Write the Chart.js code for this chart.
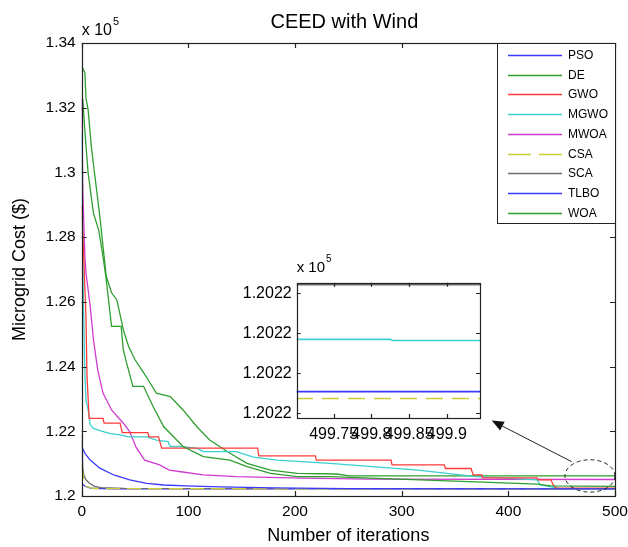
<!DOCTYPE html>
<html><head><meta charset="utf-8">
<script src="https://cdn.jsdelivr.net/npm/chart.js@4"></script>
<style>html,body{margin:0;padding:0;background:#fff;}#wrap{position:relative;width:628px;height:547px;}</style>
</head><body>
<div id="wrap">
<canvas id="main" width="628" height="547" style="position:absolute;left:0;top:0;"></canvas>
<canvas id="inset" width="260" height="200" style="position:absolute;left:230px;top:250px;"></canvas>
</div>
<script>
// ---------- text ----------
const chartTitle = 'CEED with Wind';
const xAxisTitle = 'Number of iterations';
const yAxisTitle = 'Microgrid Cost ($)';
const legendLabels = ['PSO','DE','GWO','MGWO','MWOA','CSA','SCA','TLBO','WOA'];

// ---------- ticks ----------
const xTickValues = [0,100,200,300,400,500];
const yTickValues = [1.2,1.22,1.24,1.26,1.28,1.3,1.32,1.34];
const insetXTickValues = [499.75,499.8,499.85,499.9];
const insetYTickValues = [1.2022,1.20221,1.20222,1.20223];

// ---------- series (cost in x 10^5 $) ----------
const psoIter  = [0,3,8,17,30,45,61,77,98,130,180,250,500];
const psoCost  = [1.2153,1.2132,1.2111,1.2086,1.2065,1.2050,1.2039,1.2034,1.2031,1.2028,1.2025,1.20225,1.2022054];

const deIter   = [0,1,3,6,11,16,20,23,28,37,39,42,48,58,67,77,95,114,139,155,177,202,233,270,317,376,427,440,500];
const deCost   = [1.3225,1.3225,1.3127,1.2999,1.2874,1.2821,1.2740,1.2669,1.2524,1.2524,1.2452,1.2412,1.2339,1.2339,1.2276,1.2214,1.2153,1.2122,1.2111,1.2091,1.2070,1.2060,1.2060,1.2055,1.2050,1.2043,1.2037,1.2031,1.2030];

const gwoIter  = [0,1,2,4,5,7,20,21,36,38,62,63,72,75,165,166,219,220,290,291,340,341,365,367,375,376,427,428,440,442,445,500];
const gwoCost  = [1.2897,1.2814,1.2730,1.2554,1.2368,1.2240,1.2240,1.2225,1.2225,1.2196,1.2196,1.2183,1.2183,1.2148,1.2148,1.2124,1.2124,1.2111,1.2111,1.2096,1.2096,1.2085,1.2085,1.2065,1.2065,1.2056,1.2056,1.2050,1.2050,1.2034,1.2024,1.2024];

const mgwoIter = [0,1,2,3,4,6,8,11,17,27,36,44,61,70,81,83,92,108,114,145,161,183,233,251,315,370,427,430,445,450,500];
const mgwoCost = [1.3122,1.2709,1.2535,1.2380,1.2297,1.2266,1.2220,1.2209,1.2202,1.2193,1.2189,1.2183,1.2183,1.2173,1.2168,1.2153,1.2153,1.2148,1.2137,1.2137,1.2120,1.2111,1.2101,1.2096,1.2080,1.2060,1.2050,1.2034,1.2025,1.20222,1.2022182];

const mwoaIter = [0,1,3,4,8,11,15,20,28,39,45,51,59,73,82,93,114,145,207,270,500];
const mwoaCost = [1.3225,1.2947,1.2740,1.2690,1.2586,1.2483,1.2390,1.2318,1.2266,1.2225,1.2199,1.2150,1.2111,1.2096,1.2080,1.2075,1.2065,1.2060,1.2055,1.2052,1.2051];

const csaIter  = [0,1,2,4,10,30,500];
const csaCost  = [1.2095,1.2070,1.2045,1.2030,1.20235,1.20225,1.2022037];

const scaIter  = [0,1,2,4,7,12,18,40,500];
const scaCost  = [1.2190,1.2085,1.2065,1.2050,1.2040,1.2030,1.2026,1.20235,1.2022322];

const tlboIter = [0,3,9,30,500];
const tlboCost = [1.2039,1.2030,1.2024,1.20223,1.20219];

const woaIter  = [0,3,4,6,9,12,17,20,23,28,33,39,44,50,58,64,70,83,95,108,120,139,155,177,202,239,251,500];
const woaCost  = [1.3328,1.3308,1.3230,1.3194,1.3081,1.2999,1.2864,1.2771,1.2679,1.2628,1.2606,1.2514,1.2462,1.2421,1.2381,1.2350,1.2318,1.2307,1.2266,1.2214,1.2173,1.2132,1.2101,1.2080,1.2070,1.2068,1.2062,1.2062];

// ---------- inset (zoom near iteration 500) ----------
const insetScaIter  = [499.70,499.95];
const insetScaCost  = [1.2022322,1.2022322];
const insetMgwoIter = [499.70,499.825,499.828,499.95];
const insetMgwoCost = [1.2022185,1.2022185,1.2022182,1.2022182];
const insetPsoIter  = [499.70,499.95];
const insetPsoCost  = [1.2022054,1.2022054];
const insetCsaIter  = [499.70,499.95];
const insetCsaCost  = [1.2022037,1.2022037];

// ---------- annotation (data coordinates) ----------
const ellipseAt = {iter:476.5, cost:1.2062, rIter:23.4, rCost:0.0050};
const arrowFrom = {iter:459.4, cost:1.2106};
const arrowTo   = {iter:384.4, cost:1.2233};

// ---------- styles ----------
const C = {blue:'#3a3aff', green:'#2f9e2f', red:'#ff3b3b', cyan:'#3ccfcf', magenta:'#cf3ccf', yellow:'#cccc33', gray:'#6e6e6e'};
const FONT = "'Liberation Sans', Arial, Helvetica, sans-serif";
Chart.defaults.font.family = FONT;
Chart.defaults.color = '#000';

const pts = (xs, ys) => xs.map((v,i)=>({x:v, y:ys[i]}));
const ds = (label, xs, ys, color, dash) => ({label, data:pts(xs,ys), borderColor:color, backgroundColor:color, borderWidth:1.3, pointRadius:0, fill:false, tension:0, borderDash:dash||[]});

const mainDatasets = [
  ds(legendLabels[0], psoIter, psoCost, C.blue),
  ds(legendLabels[1], deIter, deCost, C.green),
  ds(legendLabels[2], gwoIter, gwoCost, C.red),
  ds(legendLabels[3], mgwoIter, mgwoCost, C.cyan),
  ds(legendLabels[4], mwoaIter, mwoaCost, C.magenta),
  ds(legendLabels[5], csaIter, csaCost, C.yellow, [14,7]),
  ds(legendLabels[6], scaIter, scaCost, C.gray),
  ds(legendLabels[7], tlboIter, tlboCost, C.blue),
  ds(legendLabels[8], woaIter, woaCost, C.green)
];

function drawBoxAndTicks(ctx, a, x, y, tl){
  ctx.strokeStyle = '#222'; ctx.lineWidth = 1.2; ctx.setLineDash([]);
  ctx.strokeRect(Math.round(a.left)+0.5, Math.round(a.top)+0.5, Math.round(a.right-a.left), Math.round(a.bottom-a.top));
  ctx.beginPath();
  x.ticks.forEach(t=>{const p=Math.round(x.getPixelForValue(t.value))+0.5;
    ctx.moveTo(p,a.bottom); ctx.lineTo(p,a.bottom-tl); ctx.moveTo(p,a.top); ctx.lineTo(p,a.top+tl);});
  y.ticks.forEach(t=>{const p=Math.round(y.getPixelForValue(t.value))+0.5;
    ctx.moveTo(a.left,p); ctx.lineTo(a.left+tl,p); ctx.moveTo(a.right,p); ctx.lineTo(a.right-tl,p);});
  ctx.stroke();
}
function drawExp(ctx, xPos, baseY, size, supSize){
  ctx.fillStyle='#000'; ctx.textBaseline='alphabetic'; ctx.textAlign='left';
  ctx.font = size+'px '+FONT; ctx.fillText('x 10', xPos, baseY);
  const w = ctx.measureText('x 10').width;
  ctx.font = supSize+'px '+FONT; ctx.fillText('5', xPos+w+1, baseY-size*0.62);
}

const mainDecor = {
  id:'mainDecor',
  afterDraw(chart){
    const {ctx, chartArea:a, scales:{x,y}} = chart;
    ctx.save();
    drawBoxAndTicks(ctx, a, x, y, 5);
    // title and exponent
    ctx.fillStyle='#000'; ctx.font='20px '+FONT; ctx.textAlign='center'; ctx.textBaseline='middle';
    ctx.fillText(chartTitle, (a.left+a.right)/2-4, 22);
    drawExp(ctx, a.left, a.top-8, 16, 11);
    // legend
    const lw=118, rowH=19.7, lTop=a.top, lRight=a.right, lLeft=lRight-lw;
    const lH = 12 + (legendLabels.length-1)*rowH + 10;
    ctx.fillStyle='#fff'; ctx.fillRect(lLeft, lTop, lw, lH);
    ctx.strokeStyle='#222'; ctx.lineWidth=1; ctx.strokeRect(Math.round(lLeft)+0.5, Math.round(lTop)+0.5, lw, Math.round(lH));
    ctx.font='12px '+FONT; ctx.textAlign='left'; ctx.textBaseline='middle';
    chart.data.datasets.forEach((d,i)=>{
      const yy = Math.round(lTop+12+i*rowH)+0.5;
      ctx.strokeStyle=d.borderColor; ctx.lineWidth=1.4;
      ctx.setLineDash(d.borderDash && d.borderDash.length ? [23,8] : []);
      ctx.beginPath(); ctx.moveTo(lLeft+11,yy); ctx.lineTo(lLeft+65,yy); ctx.stroke();
      ctx.setLineDash([]); ctx.fillStyle='#000'; ctx.fillText(d.label, lLeft+71, yy);
    });
    // ellipse
    const cx=x.getPixelForValue(ellipseAt.iter), cy=y.getPixelForValue(ellipseAt.cost);
    const rx=Math.abs(x.getPixelForValue(ellipseAt.iter+ellipseAt.rIter)-cx);
    const ry=Math.abs(y.getPixelForValue(ellipseAt.cost+ellipseAt.rCost)-cy);
    ctx.strokeStyle='#222'; ctx.lineWidth=1; ctx.setLineDash([4,3]);
    ctx.beginPath(); ctx.ellipse(cx,cy,rx,ry,0,0,Math.PI*2); ctx.stroke();
    ctx.setLineDash([]);
    // arrow
    const x1=x.getPixelForValue(arrowFrom.iter), y1=y.getPixelForValue(arrowFrom.cost);
    const x2=x.getPixelForValue(arrowTo.iter), y2=y.getPixelForValue(arrowTo.cost);
    const ang=Math.atan2(y2-y1,x2-x1), hl=12, hw=5;
    const bx=x2-hl*Math.cos(ang), by=y2-hl*Math.sin(ang);
    ctx.beginPath(); ctx.moveTo(x1,y1); ctx.lineTo(bx,by); ctx.stroke();
    ctx.fillStyle='#111'; ctx.beginPath(); ctx.moveTo(x2,y2);
    ctx.lineTo(bx+hw*Math.sin(ang), by-hw*Math.cos(ang));
    ctx.lineTo(bx-hw*Math.sin(ang), by+hw*Math.cos(ang)); ctx.closePath(); ctx.fill();
    ctx.restore();
  }
};

new Chart(document.getElementById('main'), {
  type:'line',
  data:{datasets:mainDatasets},
  options:{
    responsive:false, animation:false, devicePixelRatio:1,
    layout:{padding:{top:43,right:13,left:0,bottom:0}},
    plugins:{legend:{display:false}, tooltip:{enabled:false}, title:{display:false}},
    scales:{
      x:{type:'linear', min:0, max:500,
        grid:{display:false, drawTicks:false}, border:{display:false},
        ticks:{padding:6, font:{size:15.5}, color:'#000', maxRotation:0, autoSkip:false, callback:v=>String(v)},
        afterBuildTicks(s){ s.ticks = xTickValues.map(v=>({value:v})); },
        afterFit(s){ s.height = 51; s.paddingLeft = 0; s.paddingRight = 0; },
        title:{display:true, text:xAxisTitle, font:{size:18}, color:'#000', padding:{top:0,bottom:0}}},
      y:{type:'linear', min:1.2, max:1.34,
        grid:{display:false, drawTicks:false}, border:{display:false},
        ticks:{padding:6, font:{size:15.5}, color:'#000', autoSkip:false, callback:v=>String(parseFloat(v.toFixed(2)))},
        afterBuildTicks(s){ s.ticks = yTickValues.map(v=>({value:v})); },
        afterFit(s){ s.width = 81.7; s.paddingTop = 0; s.paddingBottom = 0; },
        title:{display:true, text:yAxisTitle, font:{size:18}, color:'#000', padding:{top:9,bottom:0}}}
    }
  },
  plugins:[mainDecor]
});

// ---------- inset ----------
const insetDatasets = [
  ds('SCA', insetScaIter, insetScaCost, C.gray),
  ds('MGWO', insetMgwoIter, insetMgwoCost, C.cyan),
  ds('PSO', insetPsoIter, insetPsoCost, C.blue),
  ds('CSA', insetCsaIter, insetCsaCost, C.yellow, [17,9])
];
insetDatasets.forEach(d=>d.borderWidth=1.6);

const insetDecor = {
  id:'insetDecor',
  beforeDatasetsDraw(chart){
    const {ctx, chartArea:a} = chart;
    ctx.save(); ctx.fillStyle='#fff'; ctx.fillRect(a.left,a.top,a.right-a.left,a.bottom-a.top); ctx.restore();
  },
  afterDraw(chart){
    const {ctx, chartArea:a, scales:{x,y}} = chart;
    ctx.save();
    drawBoxAndTicks(ctx, a, x, y, 4);
    drawExp(ctx, a.left, a.top-11, 15, 10);
    ctx.restore();
  }
};

new Chart(document.getElementById('inset'), {
  type:'line',
  data:{datasets:insetDatasets},
  options:{
    responsive:false, animation:false, devicePixelRatio:1,
    layout:{padding:{top:32.7,right:10,left:0,bottom:0}},
    plugins:{legend:{display:false}, tooltip:{enabled:false}},
    scales:{
      x:{type:'linear', min:499.701, max:499.944,
        grid:{display:false, drawTicks:false}, border:{display:false},
        ticks:{padding:7, font:{size:16}, color:'#000', maxRotation:0, minRotation:0, autoSkip:false, callback:v=>String(parseFloat(v.toFixed(2)))},
        afterBuildTicks(s){ s.ticks = insetXTickValues.map(v=>({value:v})); },
        afterFit(s){ s.height = 32; s.paddingLeft = 0; s.paddingRight = 0; }},
      y:{type:'linear', min:1.2021988, max:1.2022327,
        grid:{display:false, drawTicks:false}, border:{display:false},
        ticks:{padding:5, font:{size:16}, color:'#000', autoSkip:false, callback:v=>v.toFixed(4)},
        afterBuildTicks(s){ s.ticks = insetYTickValues.map(v=>({value:v})); },
        afterFit(s){ s.width = 66.7; s.paddingTop = 0; s.paddingBottom = 0; }}
    }
  },
  plugins:[insetDecor]
});
</script>
</body></html>
